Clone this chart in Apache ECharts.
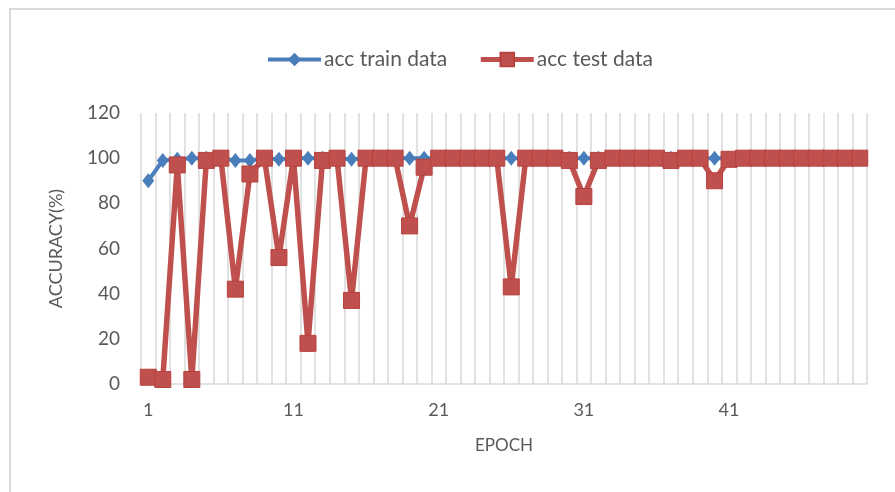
<!DOCTYPE html>
<html>
<head>
<meta charset="utf-8">
<script src="https://cdn.jsdelivr.net/npm/echarts@6/dist/echarts.min.js"></script>
<style>
  html, body { margin: 0; padding: 0; background: #ffffff; }
  #chart { width: 895px; height: 492px; }
</style>
</head>
<body>
<div id="chart"></div>
<script>
// Training epochs 1..50
const epochs = Array.from({ length: 50 }, (_, i) => String(i + 1));

// Accuracy (%) on the training set per epoch
const accTrain = [
  90, 99, 99.5, 100, 100, 100, 99, 99, 100, 99.5,
  100, 100, 100, 100, 99.5, 100, 100, 100, 100, 100,
  100, 100, 100, 100, 100, 100, 100, 100, 100, 100,
  100, 100, 100, 100, 100, 100, 100, 100, 100, 100,
  100, 100, 100, 100, 100, 100, 100, 100, 100, 100
];

// Accuracy (%) on the test set per epoch
const accTest = [
  3, 2, 97, 2, 99, 100, 42, 93, 100, 56,
  100, 18, 99, 100, 37, 100, 100, 100, 70, 96,
  100, 100, 100, 100, 100, 43, 100, 100, 100, 99,
  83, 99, 100, 100, 100, 100, 99, 100, 100, 90,
  99.5, 100, 100, 100, 100, 100, 100, 100, 100, 100
];

const yTicks = { min: 0, max: 120, step: 20 };

const FONT = 'Lato, "Open Sans", sans-serif';
const TEXT = '#595959';
const GRID = '#d9d9d9';
const BLUE = '#4a7ebb';
const RED = '#c0504d';

const chart = echarts.init(document.getElementById('chart'), null, { renderer: 'canvas' });

chart.setOption({
  animation: false,
  backgroundColor: '#ffffff',
  textStyle: { fontFamily: FONT, color: TEXT },
  graphic: [{
    type: 'rect',
    shape: { x: 10, y: 9, width: 1000, height: 1000 },
    style: { fill: 'none', stroke: GRID, lineWidth: 2 },
    silent: true,
    z: -1
  }],
  legend: {
    left: 261,
    top: 44,
    itemWidth: 53,
    itemHeight: 17,
    itemGap: 31,
    textStyle: { fontFamily: FONT, fontSize: 21, color: TEXT, padding: [0, 0, 0, -2] },
    data: [
      { name: 'acc train data', lineStyle: { width: 4, color: BLUE } },
      { name: 'acc test data', lineStyle: { width: 5, color: RED } }
    ]
  },
  grid: { left: 141, right: 28, top: 113, bottom: 108 },
  xAxis: {
    type: 'category',
    data: epochs,
    boundaryGap: true,
    name: 'EPOCH',
    nameLocation: 'middle',
    nameGap: 53,
    nameTextStyle: { fontFamily: FONT, fontSize: 17, color: TEXT },
    axisLine: { show: true, lineStyle: { color: GRID, width: 1.5 } },
    axisTick: { show: false, interval: 0 },
    axisLabel: { interval: 9, margin: 17, fontFamily: FONT, fontSize: 18, color: TEXT },
    splitLine: { show: true, interval: 0, lineStyle: { color: GRID, width: 1.5 } }
  },
  yAxis: {
    type: 'value',
    min: yTicks.min,
    max: yTicks.max,
    interval: yTicks.step,
    name: 'ACCURACY(%)',
    nameLocation: 'middle',
    nameRotate: 90,
    nameGap: 76,
    nameTextStyle: { fontFamily: FONT, fontSize: 18, color: TEXT },
    axisLine: { show: false },
    axisTick: { show: false },
    axisLabel: { margin: 21, fontFamily: FONT, fontSize: 19, color: TEXT },
    splitLine: { show: false }
  },
  series: [
    {
      name: 'acc train data',
      type: 'line',
      data: accTrain,
      symbol: 'diamond',
      symbolSize: [12, 15],
      showAllSymbol: true,
      lineStyle: { color: BLUE, width: 4 },
      itemStyle: { color: BLUE },
      z: 2
    },
    {
      name: 'acc test data',
      type: 'line',
      data: accTest,
      symbol: 'rect',
      symbolSize: 16,
      showAllSymbol: true,
      lineStyle: { color: RED, width: 5.5 },
      itemStyle: { color: RED, borderColor: '#b8413e', borderWidth: 1 },
      z: 3
    }
  ]
});
</script>
</body>
</html>
